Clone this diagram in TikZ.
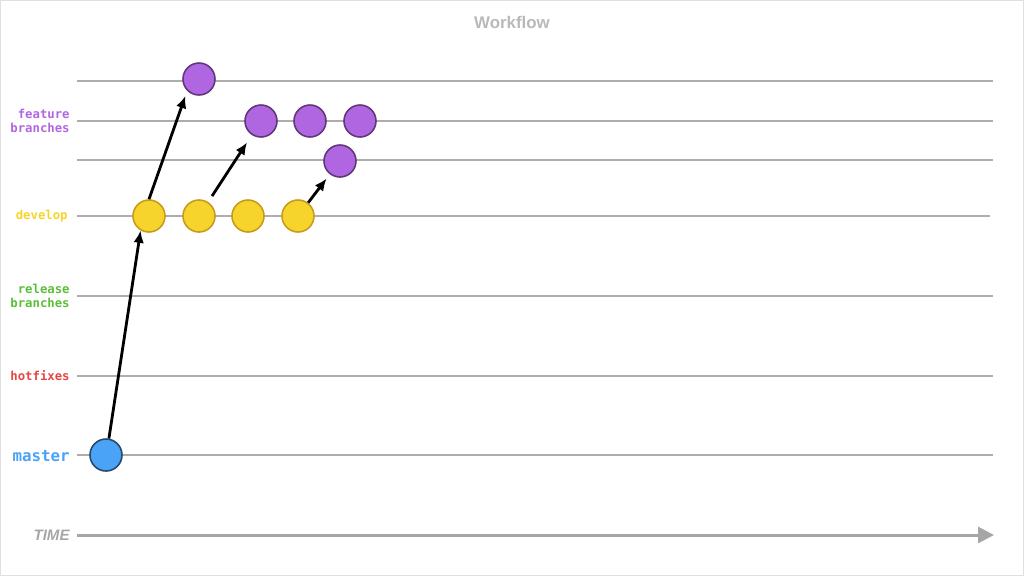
\documentclass[tikz,border=0pt]{standalone}
\usepackage{fontspec}
\setmainfont{Liberation Sans}
\newfontfamily\lanefont{DejaVu Sans Mono}
\usepackage{tikz}
\usetikzlibrary{arrows.meta, positioning}
\definecolor{lanegray}{HTML}{ADADAD}
\definecolor{timegray}{HTML}{A6A6A6}
\definecolor{featurec}{HTML}{B066E0}
\definecolor{developc}{HTML}{F7D42C}
\definecolor{releasec}{HTML}{5CBE38}
\definecolor{hotfixc}{HTML}{E84444}
\definecolor{masterc}{HTML}{4BA3F7}
\tikzstyle{lane} = [draw=lanegray, line width=1pt]
\tikzstyle{lanelabel} = [anchor=east, align=right, inner sep=0pt, font=\lanefont\bfseries\fontsize{7}{7.6}\selectfont]
\tikzstyle{commit} = [circle, minimum size=0.64cm, inner sep=0pt, line width=0.9pt]
\tikzstyle{mastercommit} = [commit, fill=masterc, draw=masterc!45!black]
\tikzstyle{devcommit} = [commit, fill=developc, draw={rgb,255:red,200;green,155;blue,30}]
\tikzstyle{featcommit} = [commit, fill=featurec, draw=featurec!55!black]
\tikzstyle{arrow} = [line width=1.6pt, -{Latex[length=7pt, width=6pt]}]
\begin{document}
\begin{tikzpicture}[x=0.02cm, y=-0.02cm]
            \useasboundingbox (0,0) rectangle (1024,576);
            \draw[gray!25, line width=0.8pt] (0.4,0.4) rectangle (1023.6,575.6);
            \node[text=lanegray!85, font=\bfseries\fontsize{9.6}{11}\selectfont] (title) at (512,22) {Workflow};
            % lanes
            \draw[lane] (77,81) -- (993,81);
            \draw[lane] (77,121) -- (993,121);
            \draw[lane] (77,160) -- (993,160);
            \draw[lane] (77,216) -- (990,216);
            \draw[lane] (77,296) -- (993,296);
            \draw[lane] (77,376) -- (993,376);
            \draw[lane] (77,455) -- (993,455);
            \node[lanelabel, text=featurec] (featurelbl) at (70,121) {feature\\branches};
            \node[lanelabel, text=developc] (developlbl) at (68,216) {develop};
            \node[lanelabel, text=releasec] (releaselbl) at (70,296) {release\\branches};
            \node[lanelabel, text=hotfixc] (hotfixlbl) at (70,376) {hotfixes};
            \node[lanelabel, text=masterc, font=\lanefont\bfseries\fontsize{9}{10}\selectfont] (masterlbl) at (70,456) {master};
            % time axis
            \node[anchor=east, inner sep=0pt, text=timegray, font=\bfseries\itshape\fontsize{8.6}{10}\selectfont] (timelbl) at (70,535) {TIME};
            \coordinate (timeend) at (994,535);
            \draw[timegray, line width=1.7pt, -{Triangle[length=9pt, width=9pt]}] (timelbl.east) ++(7,0) -- (timeend);
            % commits
            \node[mastercommit] (m1) at (106,455) {};
            \node[devcommit] (d1) at (149,216) {};
            \node[devcommit] (d2) at (199,216) {};
            \node[devcommit] (d3) at (248,216) {};
            \node[devcommit] (d4) at (298,216) {};
            \node[featcommit] (f1) at (199,79) {};
            \node[featcommit] (f2) at (261,121) {};
            \node[featcommit] (f3) at (310,121) {};
            \node[featcommit] (f4) at (360,121) {};
            \node[featcommit] (f5) at (340,161) {};
            % merges
            \draw[arrow] (m1.80) -- (d1.240);
            \draw[arrow, shorten >=3pt] (d1.north) -- (f1.south west);
            \draw[arrow, shorten <=4pt, shorten >=5pt] (d2) -- (f2);
            \draw[arrow, shorten >=3pt] (d4) -- (f5);
        \end{tikzpicture}
\end{document}
